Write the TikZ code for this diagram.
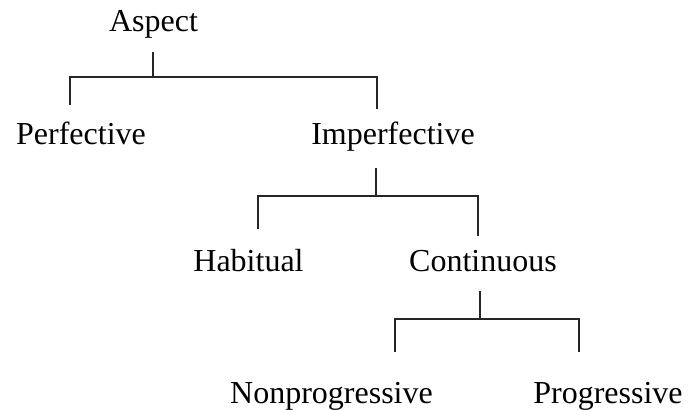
\documentclass[tikz,border=0pt]{standalone}
\usepackage{fontspec}
\setmainfont{Liberation Serif}
\usepackage{tikz}
\usetikzlibrary{positioning,calc}

\begin{document}
\begin{tikzpicture}[
  x=0.75pt, y=-0.75pt,
  every node/.style={font=\fontsize{24}{28}\selectfont},
  lbl/.style={anchor=base, text height=17pt, text depth=6pt,
              inner xsep=0pt, inner ysep=9pt},
  branch/.style={draw=black!85, line width=1.1pt},
]
\useasboundingbox (0,0) rectangle (692,410);
% Category labels
\node[lbl] (asp)  at (153.5,32) {Aspect};
\node[lbl] (perf) at (81,144)   {Perfective};
\node[lbl] (imp)  at (393,144)  {Imperfective};
\node[lbl] (hab)  at (248.5,271) {Habitual};
\node[lbl] (cont) at (483,271)  {Continuous};
\node[lbl] (nonp) at (331.5,403) {Nonprogressive};
\node[lbl] (prog) at (608,403)  {Progressive};
% Junctions and bar ends
\coordinate (j1) at (153,77);  \coordinate (l1) at (70,77);  \coordinate (r1) at (377,77);
\coordinate (j2) at (376,196); \coordinate (l2) at (258,196); \coordinate (r2) at (478,196);
\coordinate (j3) at (480,319); \coordinate (l3) at (395,319); \coordinate (r3) at (579,319);
% Aspect
\draw[branch] (j1 |- asp.south) -- (j1);
\draw[branch, shorten <=3pt] (perf.north -| l1) -- (l1) -- (r1) -- (imp.north -| r1);
% Imperfective
\draw[branch, shorten <=3pt] (j2 |- imp.south) -- (j2);
\draw[branch, shorten <=5pt] (hab.north -| l2) -- (l2) -- (r2) -- (cont.north -| r2);
% Continuous
\draw[branch] (j3 |- cont.south) -- (j3);
\draw[branch, shorten <=12pt, shorten >=12pt] (nonp.north -| l3) -- (l3) -- (r3) -- (prog.north -| r3);
\end{tikzpicture}
\end{document}
